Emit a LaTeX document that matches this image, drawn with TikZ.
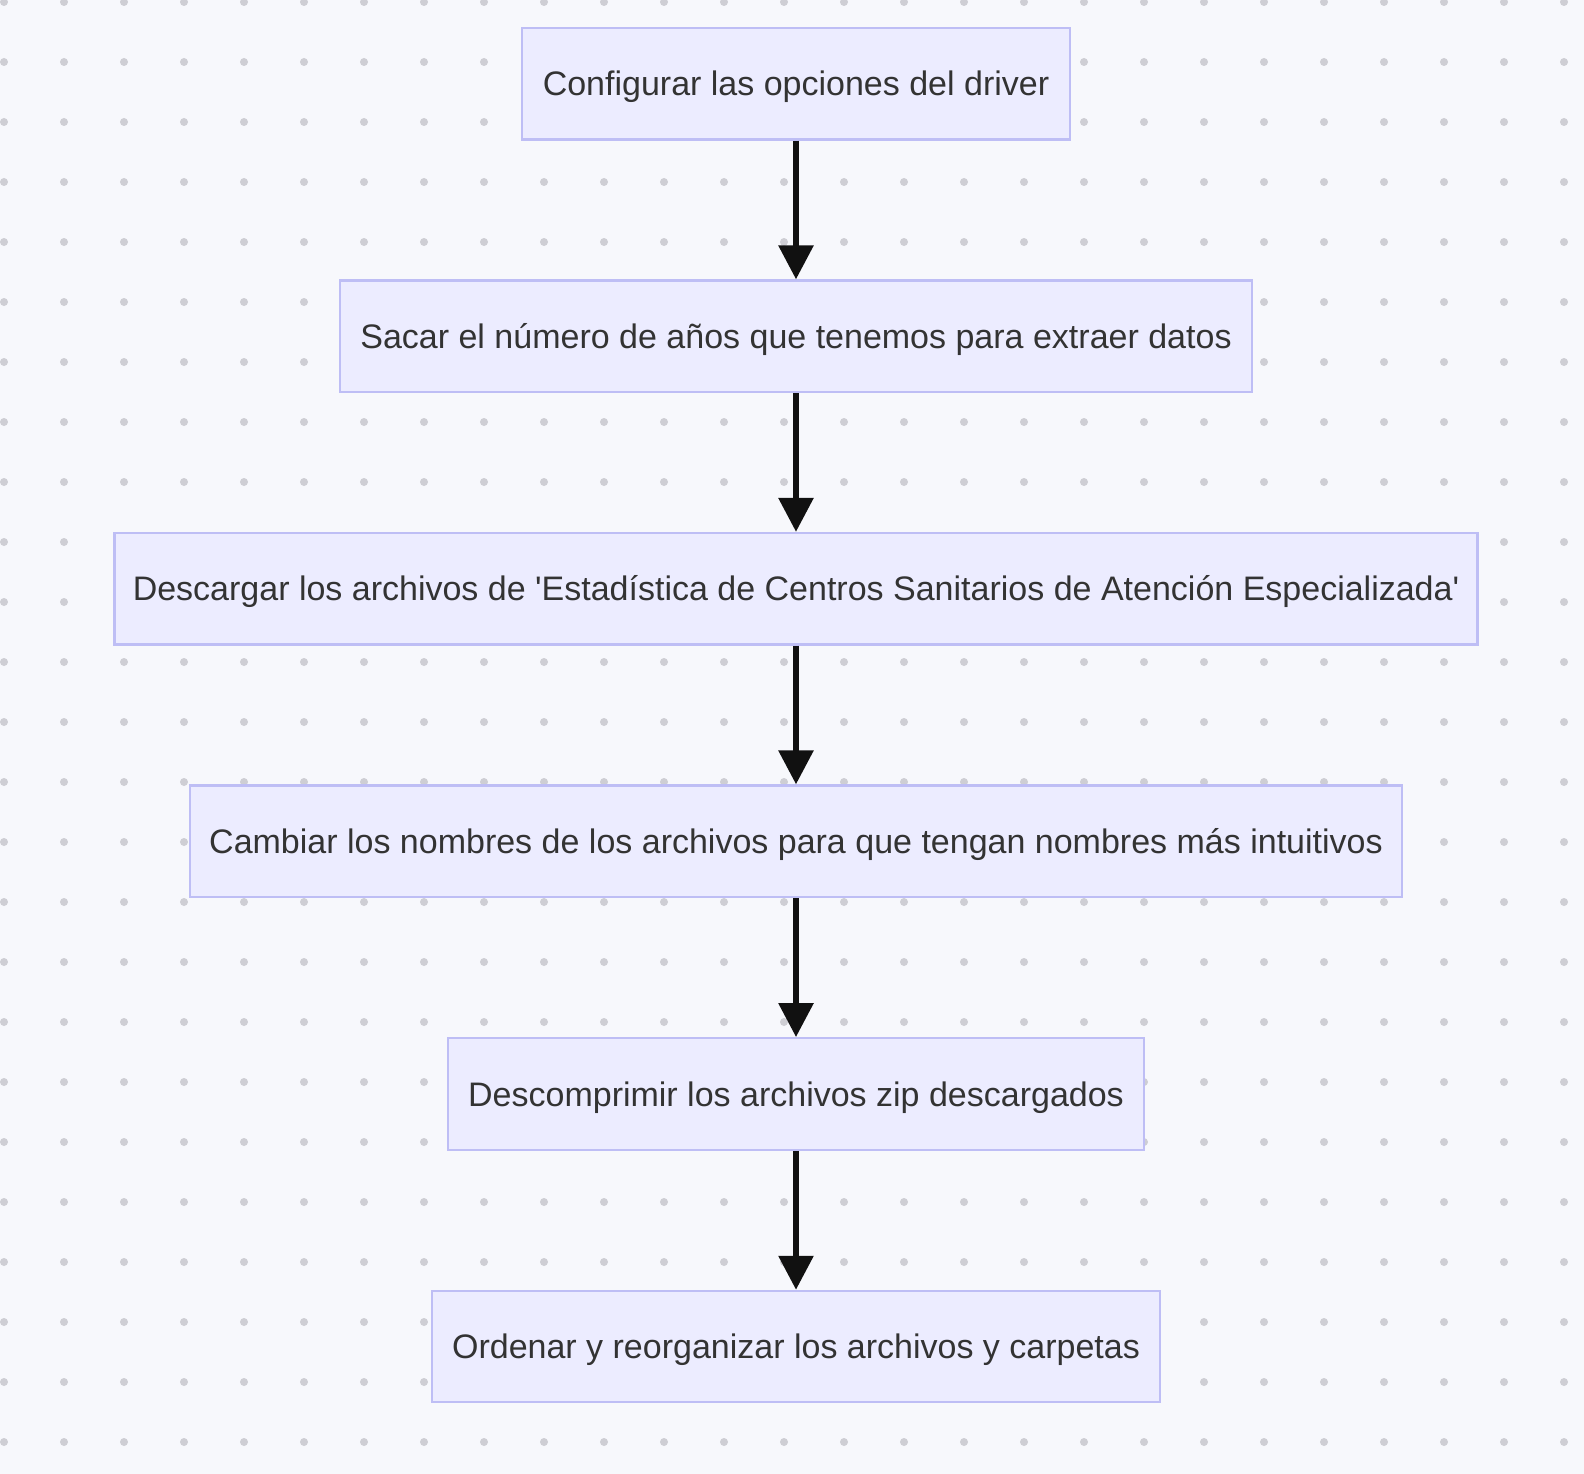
\documentclass[tikz,border=0pt]{standalone}
\usepackage{fontspec}
\setmainfont{Liberation Sans}
\usetikzlibrary{arrows.meta}
\definecolor{bgc}{RGB}{247,248,252}
\definecolor{dotc}{RGB}{206,206,212}
\definecolor{boxfill}{RGB}{236,236,255}
\definecolor{boxline}{RGB}{190,190,245}
\definecolor{txt}{RGB}{51,51,51}
\definecolor{arr}{RGB}{17,17,17}
\tikzset{
  stepbox/.style={draw=boxline, fill=boxfill, line width=2.2pt, rectangle,
    minimum height=111.5pt, inner sep=0pt, text=txt, text height=24.3pt, text depth=0pt,
    font=\fontsize{34}{40}\selectfont},
  flow/.style={draw=arr, line width=6pt, -{Triangle[width=34pt,length=34pt]}, shorten >=0pt}
}
\begin{document}
\begin{tikzpicture}[x=1pt,y=-1pt]
\fill[bgc] (0,0) rectangle (1584,1474);
\useasboundingbox (0,0) rectangle (1584,1474);
\foreach \i in {0,...,26}{
  \foreach \j in {0,...,24}{
    \fill[dotc] ({4+60*\i},{2+60*\j}) circle[radius=4pt];
  }
}
\node[stepbox, minimum width=548pt] (b1) at (796,83.7) {Configurar las opciones del driver};
\node[stepbox, minimum width=912pt] (b2) at (796,336.2) {Sacar el número de años que tenemos para extraer datos};
\node[stepbox, minimum width=1363pt] (b3) at (796,588.7) {Descargar los archivos de \textquotesingle Estadística de Centros Sanitarios de Atención Especializada\textquotesingle};
\node[stepbox, minimum width=1212pt] (b4) at (796,841.2) {Cambiar los nombres de los archivos para que tengan nombres más intuitivos};
\node[stepbox, minimum width=696pt] (b5) at (796,1093.9) {Descomprimir los archivos zip descargados};
\node[stepbox, minimum width=728pt] (b6) at (796,1346.6) {Ordenar y reorganizar los archivos y carpetas};
\draw[flow] (b1.south) -- (b2.north);
\draw[flow] (b2.south) -- (b3.north);
\draw[flow] (b3.south) -- (b4.north);
\draw[flow] (b4.south) -- (b5.north);
\draw[flow] (b5.south) -- (b6.north);
\end{tikzpicture}
\end{document}
